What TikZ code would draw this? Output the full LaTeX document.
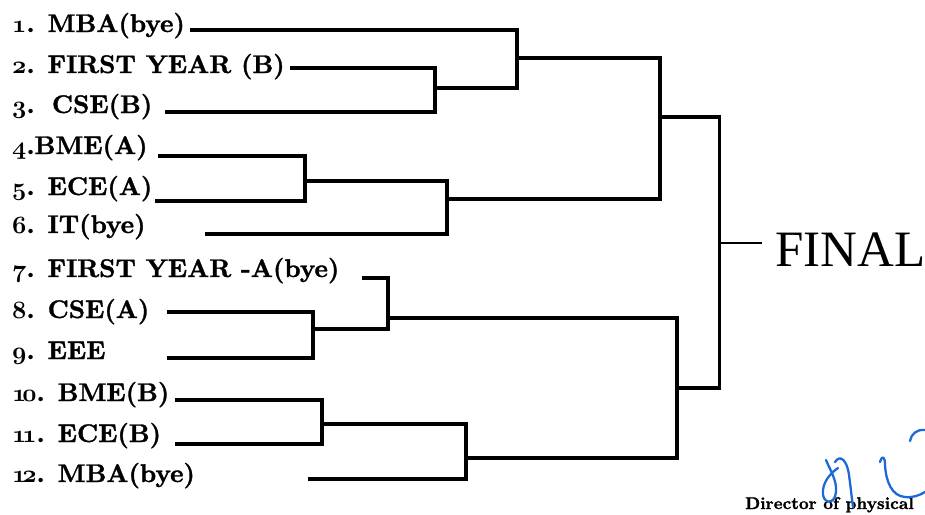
\documentclass[tikz,border=0pt]{standalone}
\usepackage{fontspec}
\usepackage{tikz}
\usetikzlibrary{positioning}
\newfontfamily\finalfont{Liberation Serif}
\newfontfamily\teamfont[FakeBold=1.3]{lmroman10-bold.otf}
\newcommand{\osnum}[1]{{\usefont{OML}{cmm}{b}{it}#1}}
\definecolor{signColor}{RGB}{30,105,215}

\begin{document}
\begin{tikzpicture}[x=1pt,y=-1pt]

            \tikzstyle{bracketEdge} = [line width=3.2pt, line join=miter];
            \tikzstyle{finalEdge} = [line width=2.4pt];
            \tikzstyle{teamLabel} = [anchor=base west, inner sep=0pt, font=\fontsize{25.5}{30}\selectfont\teamfont];
            \tikzstyle{signStroke} = [line width=2.3pt, signColor, line cap=round, line join=round];

            \useasboundingbox (0,0) rectangle (925,514);

            % team names
            \node[teamLabel] (t1)  at (12,32)  {\osnum{1}. MBA(bye)};
            \node[teamLabel] (t2)  at (12,73)  {\osnum{2}. FIRST YEAR (B)};
            \node[teamLabel] (t3)  at (12,113) {\osnum{3}. \,CSE(B)};
            \node[teamLabel] (t4)  at (12,154) {\osnum{4}.BME(A)};
            \node[teamLabel] (t5)  at (12,195) {\osnum{5}. ECE(A)};
            \node[teamLabel] (t6)  at (12,233) {\osnum{6}. IT(bye)};
            \node[teamLabel] (t7)  at (12,277) {\osnum{7}. FIRST YEAR -A(bye)};
            \node[teamLabel] (t8)  at (12,318) {\osnum{8}. CSE(A)};
            \node[teamLabel] (t9)  at (12,359) {\osnum{9}. EEE};
            \node[teamLabel] (t10) at (12,401) {\osnum{1}\!\osnum{0}. BME(B)};
            \node[teamLabel] (t11) at (12,442) {\osnum{1}\!\osnum{1}. ECE(B)};
            \node[teamLabel] (t12) at (12,482) {\osnum{1}\!\osnum{2}. MBA(bye)};

            % where the lines start
            \coordinate (s1)  at (190,30);
            \coordinate (s2)  at (290,68);
            \coordinate (s3)  at (165,112);
            \coordinate (s4)  at (158,156);
            \coordinate (s5)  at (155,201);
            \coordinate (s6)  at (205,234);
            \coordinate (s7)  at (362,278);
            \coordinate (s8)  at (167,312);
            \coordinate (s9)  at (167,358);
            \coordinate (s10) at (175,400);
            \coordinate (s11) at (175,444);
            \coordinate (s12) at (308,479);

            % winners
            \coordinate (w23)   at (435,88);
            \coordinate (w123)  at (517,58);
            \coordinate (w45)   at (305,181);
            \coordinate (w456)  at (447,199);
            \coordinate (wtop)  at (660,117);
            \coordinate (w89)   at (313,329);
            \coordinate (w789)  at (388,318);
            \coordinate (w1011) at (322,424);
            \coordinate (w1012) at (466,458);
            \coordinate (wbot)  at (677,388);
            \coordinate (wfin)  at (719.5,243);
            \coordinate (stub)  at (762,243);

            \node[anchor=base west, inner sep=0pt, font=\finalfont\fontsize{51}{56}\selectfont] (final) at (775,266) {FINAL};

            \draw[bracketEdge] (s2) -| (w23) |- (s3);
            \draw[bracketEdge] (s1) -| (w123) |- (w23);
            \draw[bracketEdge] (s4) -| (w45) |- (s5);
            \draw[bracketEdge] (w45) -| (w456) |- (s6);
            \draw[bracketEdge] (w123) -| (wtop) |- (w456);

            \draw[bracketEdge] (s8) -| (w89) |- (s9);
            \draw[bracketEdge] (s7) -| (w789) |- (w89);
            \draw[bracketEdge] (s10) -| (w1011) |- (s11);
            \draw[bracketEdge] (w1011) -| (w1012) |- (s12);
            \draw[bracketEdge] (w789) -| (wbot) |- (w1012);

            \draw[bracketEdge] (wtop) -| (wfin) |- (wbot);
            \draw[finalEdge] (wfin) -- (stub);

            % signature
            \node[anchor=base west, inner sep=0pt, font=\fontsize{17}{20}\selectfont\teamfont] (director) at (745,509) {Director of physical};
            \draw[signStroke] (826,460) .. controls (830,470) and (837,480) .. (836,492)
                .. controls (835,506) and (821,504) .. (823,490)
                .. controls (824,480) and (832,472) .. (838,468);
            \draw[signStroke] (835,462) .. controls (840,454) and (847,460) .. (849,475)
                .. controls (851,490) and (852,500) .. (853,507);
            \draw[signStroke] (880,462) .. controls (882,455) and (885,456) .. (885,465)
                .. controls (886,482) and (892,496) .. (905,497)
                .. controls (913,498) and (920,495) .. (925,492);
            \draw[signStroke] (910,441) .. controls (911,434) and (917,429) .. (925,430);
\end{tikzpicture}
\end{document}
